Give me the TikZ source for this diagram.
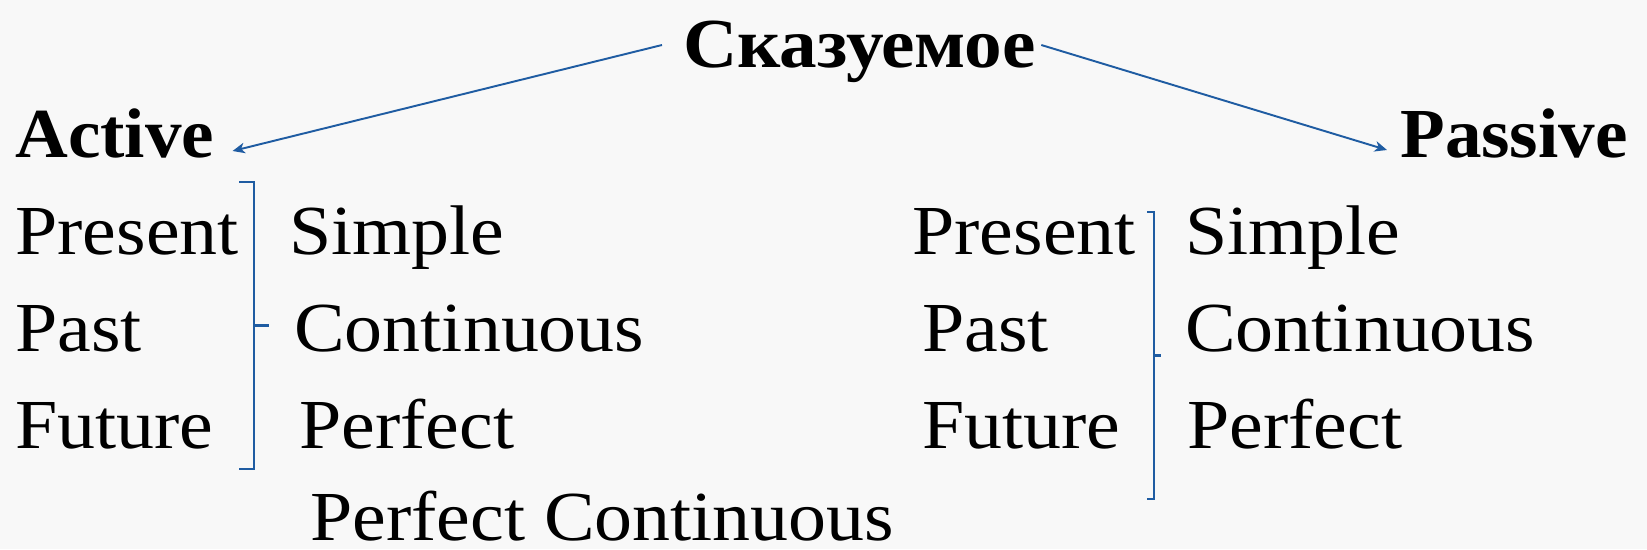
\documentclass[tikz,border=0pt]{standalone}
\usepackage{fontspec}
\setmainfont{Liberation Serif}[FakeStretch=1.08]
\newfontfamily\headfont{Liberation Serif}[FakeStretch=1.04]
\newfontfamily\titlefont{Liberation Serif}[FakeStretch=1.07]
\usetikzlibrary{arrows.meta}
\definecolor{linkblue}{RGB}{31,92,162}
\definecolor{paper}{RGB}{248,248,248}
\tikzset{
  word/.style={anchor=base west,inner sep=0pt,font=\fontsize{40}{48}\selectfont},
  head/.style={anchor=base west,inner sep=0pt,font=\headfont\bfseries\fontsize{40}{48}\selectfont},
  link/.style={draw=linkblue,line width=1.1pt,-{Stealth[length=7pt,width=6pt,inset=2pt]}},
  brace/.style={draw=linkblue,line width=1.3pt}
}
\begin{document}
\begin{tikzpicture}[x=0.02cm,y=-0.02cm]
    \fill[paper] (0,0) rectangle (1647,549);
    \useasboundingbox (0,0) rectangle (1647,549);
    \node[head,font=\titlefont\bfseries\fontsize{40}{48}\selectfont] (title) at (683,67) {Сказуемое};
    \node[head] (active) at (15,157) {Active};
    \node[head] (passive) at (1400,157) {Passive};
    \foreach \n/\x/\y/\t in {lpres/15/254/Present,lpast/15/351/Past,lfut/15/448/Future,
      lsimp/289/254/Simple,lcont/294/351/Continuous,lperf/299/448/Perfect,lperfcont/310/540/Perfect Continuous,
      rpres/912/254/Present,rpast/922/351/Past,rfut/922/448/Future,
      rsimp/1185/254/Simple,rcont/1185/351/Continuous,rperf/1187/448/Perfect}{%
      \node[word] (\n) at (\x,\y) {\t};
    }
    \draw[link] ([shift={(-21,-22)}]title.base west) -- ([shift={(18,-6)}]active.base east);
    \draw[link] ([shift={(5,-22)}]title.base east) -- ([shift={(-13,-7)}]passive.base west);
    \foreach \bx/\top/\bot/\lw in {254/182/469/15,1154/212/499/7}{%
      \draw[brace] (\bx-\lw,\top) -- (\bx,\top) -- (\bx,\bot) -- (\bx-\lw,\bot);
      \draw[brace] (\bx,{(\top+\bot)/2}) -- (\bx+\lw,{(\top+\bot)/2});
    }
\end{tikzpicture}
\end{document}
